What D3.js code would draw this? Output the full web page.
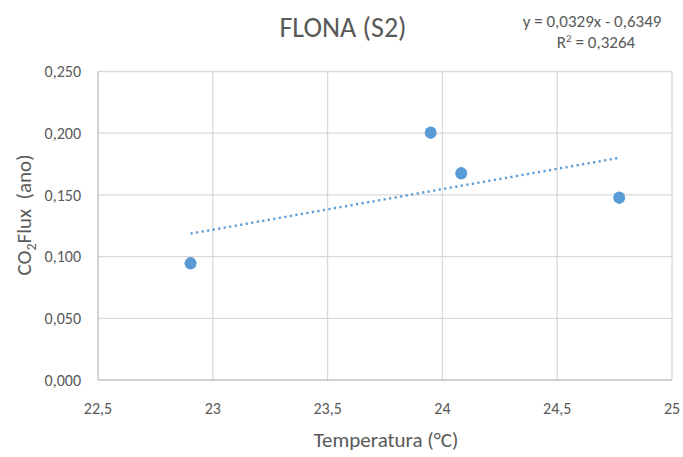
<!DOCTYPE html>
<html><head><meta charset="utf-8">
<script src="https://cdn.jsdelivr.net/npm/d3@7"></script>
<style>
body{margin:0;background:#fff;}
text{font-family:Carlito,Lato,sans-serif;fill:#595959;white-space:pre;}
</style></head>
<body><svg id="c" width="683" height="457"></svg>
<script>
const temperatura = [22.903, 23.949, 24.082, 24.770];
const co2Flux = [0.0946, 0.2004, 0.1675, 0.1477];
const xTicks = [22.5, 23, 23.5, 24, 24.5, 25];
const yTicks = [0, 0.05, 0.10, 0.15, 0.20, 0.25];
const trendSlope = 0.0329, trendIntercept = -0.6349, trendR2 = 0.3264;

const svg = d3.select("#c");
const x = d3.scaleLinear().domain([22.5, 25]).range([98, 672]);
const y = d3.scaleLinear().domain([0, 0.25]).range([380, 71.5]);
const fmtX = v => String(v).replace(".", ",");
const fmtY = v => d3.format(".3f")(v).replace(".", ",");
const fmtN = v => String(v).replace(".", ",");

// gridlines
svg.append("g").selectAll("line").data(yTicks.slice(1)).join("line")
  .attr("x1", x(22.5)).attr("x2", x(25)).attr("y1", d => y(d)).attr("y2", d => y(d))
  .attr("stroke", "#d9d9d9").attr("stroke-width", 1.3);
svg.append("g").selectAll("line").data(xTicks.slice(1)).join("line")
  .attr("y1", y(0)).attr("y2", y(0.25)).attr("x1", d => x(d)).attr("x2", d => x(d))
  .attr("stroke", "#d9d9d9").attr("stroke-width", 1.3);
// axis lines
svg.append("line").attr("x1", x(22.5)).attr("x2", x(22.5)).attr("y1", y(0)).attr("y2", y(0.25))
  .attr("stroke", "#bfbfbf").attr("stroke-width", 1.3);
svg.append("line").attr("x1", x(22.5)).attr("x2", x(25)).attr("y1", y(0)).attr("y2", y(0))
  .attr("stroke", "#bfbfbf").attr("stroke-width", 1.3);

// tick labels
svg.append("g").selectAll("text").data(yTicks).join("text")
  .attr("x", 81).attr("y", d => y(d)).attr("dy", "0.36em").attr("text-anchor", "end")
  .style("font-size", "16px").text(fmtY);
svg.append("g").selectAll("text").data(xTicks).join("text")
  .attr("x", d => x(d)).attr("y", 413.5).attr("text-anchor", "middle")
  .style("font-size", "16px").text(fmtX);

// trendline
const tx = d3.extent(temperatura);
svg.append("line")
  .attr("x1", x(tx[0])).attr("y1", y(trendSlope * tx[0] + trendIntercept))
  .attr("x2", x(tx[1])).attr("y2", y(trendSlope * tx[1] + trendIntercept))
  .attr("stroke", "#5b9bd5").attr("stroke-width", 2.4).attr("stroke-dasharray", "2.2,3.4");

// points
svg.append("g").selectAll("ellipse").data(temperatura).join("ellipse")
  .attr("cx", d => x(d)).attr("cy", (d, i) => y(co2Flux[i]))
  .attr("rx", 6).attr("ry", 6.2).attr("fill", "#5b9bd5");

// titles
svg.append("text").attr("x", 343).attr("y", 37).attr("text-anchor", "middle")
  .style("font-size", "28px").text("FLONA (S2)");
svg.append("text").attr("x", 386).attr("y", 447).attr("text-anchor", "middle")
  .style("font-size", "21px").text("Temperatura (°C)");
const yt = svg.append("text").attr("transform", "translate(31,215) rotate(-90)")
  .attr("text-anchor", "middle").style("font-size", "21px");
yt.append("tspan").text("CO");
yt.append("tspan").attr("dy", 5).style("font-size", "14px").text("2");
yt.append("tspan").attr("dy", -5).text("Flux  (ano)");

// equation
svg.append("text").attr("x", 592).attr("y", 27).attr("text-anchor", "middle")
  .style("font-size", "17px")
  .text("y = " + fmtN(trendSlope) + "x - " + fmtN(Math.abs(trendIntercept)));
const r2 = svg.append("text").attr("x", 596).attr("y", 48).attr("text-anchor", "middle").style("font-size", "17px");
r2.append("tspan").text("R");
r2.append("tspan").attr("dy", -6).style("font-size", "11px").text("2");
r2.append("tspan").attr("dy", 6).text(" = " + fmtN(trendR2));
</script></body></html>
